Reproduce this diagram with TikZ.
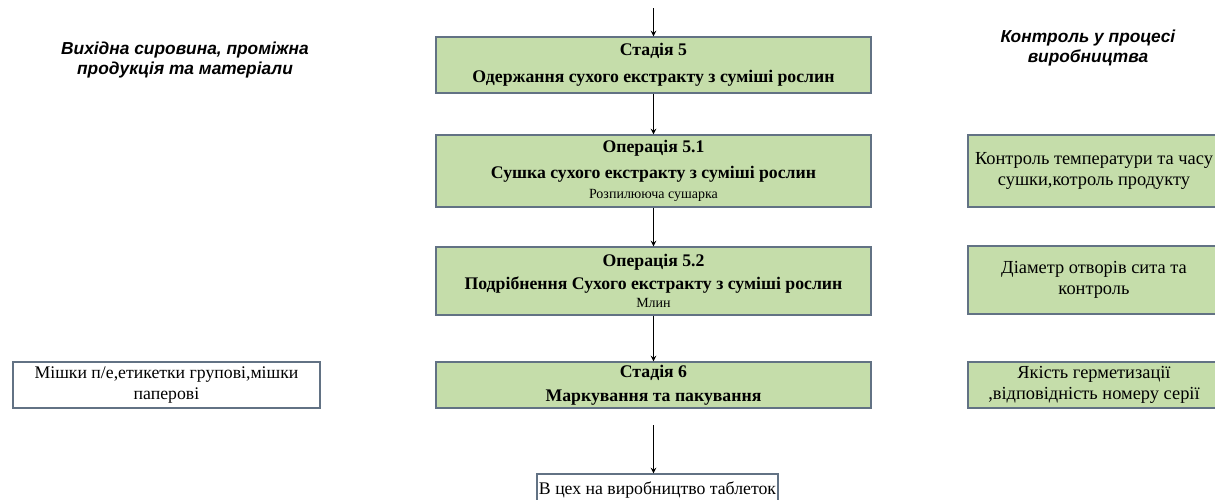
\documentclass[tikz,border=0pt]{standalone}
\usepackage{fontspec}
\setmainfont{Liberation Serif}
\newfontfamily\headfont{Liberation Sans}
\usetikzlibrary{arrows}

\definecolor{stagegreen}{RGB}{197,221,170}
\definecolor{boxline}{RGB}{98,114,132}

\tikzset{
  stagebox/.style={draw=boxline, fill=stagegreen, line width=0.9pt, align=center,
    minimum width=326.25pt, inner sep=1pt, font=\bfseries\fontsize{13.3}{15}\selectfont},
  ctrlbox/.style={draw=boxline, fill=stagegreen, line width=0.9pt, align=center,
    minimum width=189pt, inner sep=1pt, font=\fontsize{13.8}{16}\selectfont},
  inbox/.style={draw=boxline, fill=white, line width=0.9pt, align=center, inner sep=1pt,
    font=\fontsize{13.3}{16}\selectfont},
  headtext/.style={align=center, font=\headfont\bfseries\itshape\fontsize{13}{14.5}\selectfont},
  flow/.style={->, >=stealth, line width=0.9pt, black}
}

\begin{document}
\begin{tikzpicture}[x=0.75pt,y=-0.75pt]
    \useasboundingbox (0,0) rectangle (1215,500);
    \clip (0,0) rectangle (1215,500);

    % headings
    \node[headtext] (hin) at (185,60) {Вихідна сировина, проміжна\\продукція та матеріали};
    \node[headtext] (hctrl) at (1088,48) {Контроль у процесі\\виробництва};

    % main column
    \node[stagebox, minimum height=42pt] (st5) at (653.5,65)
        {Стадія 5\\[5pt] Одержання сухого екстракту з суміші рослин};
    \node[stagebox, minimum height=54pt] (op51) at (653.5,171)
        {Операція 5.1\\[4pt] Сушка сухого екстракту з суміші рослин\\[0pt]
         {\mdseries\fontsize{10.5}{12}\selectfont Розпилююча сушарка}};
    \node[stagebox, minimum height=51pt] (op52) at (653.5,281)
        {Операція 5.2\\[2pt] Подрібнення Сухого екстракту з суміші рослин\\[-1pt]
         {\mdseries\fontsize{10.5}{12}\selectfont Млин}};
    \node[stagebox, minimum height=34.5pt] (st6) at (653.5,385)
        {Стадія 6\\[3pt] Маркування та пакування};
    \node[inbox, minimum width=180.75pt, minimum height=24pt] (fin) at (657.5,490)
        {В цех на виробництво таблеток};

    % materials
    \node[inbox, minimum width=230.25pt, minimum height=34.5pt] (mat6) at (166.5,385)
        {Мішки п/е,етикетки групові,мішки\\паперові};

    % control column
    \node[ctrlbox, minimum height=54pt] (c51) at (1094,171)
        {Контроль температури та часу\\сушки,котроль продукту};
    \node[ctrlbox, minimum height=51pt] (c52) at (1094,280)
        {Діаметр отворів сита та\\контроль};
    \node[ctrlbox, minimum height=34.5pt] (c6) at (1094,385)
        {Якість герметизації\\,відповідність номеру серії};

    % arrows
    \coordinate (in5) at (653.5,8);
    \coordinate (out6) at (653.5,425);
    \draw[flow] (in5) -- (st5.north);
    \draw[flow] (st5.south) -- (op51.north);
    \draw[flow] (op51.south) -- (op52.north);
    \draw[flow] (op52.south) -- (st6.north);
    \draw[flow] (out6) -- (out6 |- fin.north);
\end{tikzpicture}
\end{document}
